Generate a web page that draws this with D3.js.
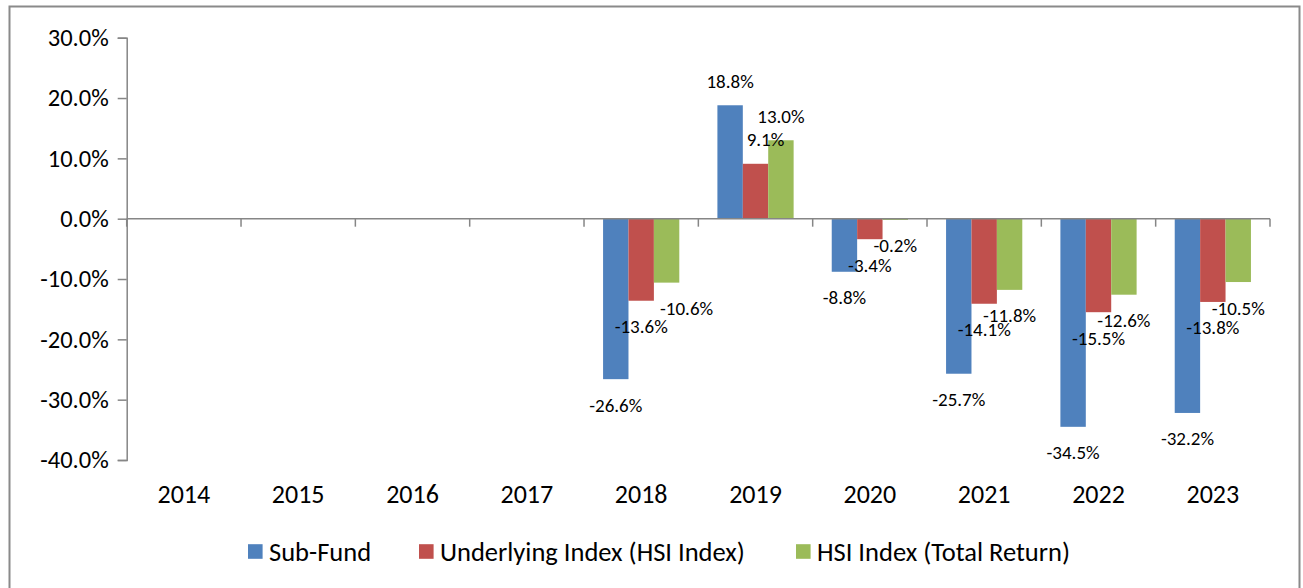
<!DOCTYPE html>
<html>
<head>
<meta charset="utf-8">
<script src="https://cdn.jsdelivr.net/npm/d3@7"></script>
<style>
  body { margin: 0; background: #fff; }
  svg { display: block; }
  text { font-family: Calibri, Carlito, Lato, sans-serif; fill: #000; }
</style>
</head>
<body>
<svg id="chart"></svg>
<script>
const years = ["2014", "2015", "2016", "2017", "2018", "2019", "2020", "2021", "2022", "2023"];
const seriesNames = ["Sub-Fund", "Underlying Index (HSI Index)", "HSI Index (Total Return)"];
const subFund = [null, null, null, null, -26.6, 18.8, -8.8, -25.7, -34.5, -32.2];
const underlying = [null, null, null, null, -13.6, 9.1, -3.4, -14.1, -15.5, -13.8];
const totalReturn = [null, null, null, null, -10.6, 13.0, -0.2, -11.8, -12.6, -10.5];
const yTicks = [30, 20, 10, 0, -10, -20, -30, -40];

const colors = ["#4f81bd", "#c0504d", "#9bbb59"];
// a couple of labels were dragged sideways in the original
const labelNudge = { "2018|2": 20, "2019|1": 10 };

const width = 1303, height = 588;
const svg = d3.select("#chart").attr("width", width).attr("height", height);

// outer frame (bottom edge is cropped off)
svg.append("path")
  .attr("d", `M9.5,${height + 5} V6.5 H1299.5 V${height + 5}`)
  .attr("fill", "none")
  .attr("stroke", "#8a8a8a")
  .attr("stroke-width", 2);

const x = d3.scaleBand().domain(years).range([126.7, 1270]);
const y = d3.scaleLinear().domain([-40, 30]).range([460, 37.7]);
const bw = x.bandwidth();
const gap = bw * 1.5 / 4.5;
const xs = d3.scaleBand().domain([0, 1, 2]).range([gap / 2, bw - gap / 2]);

const allSeries = [subFund, underlying, totalReturn];
const bars = [];
allSeries.forEach((vals, s) => {
  vals.forEach((v, i) => {
    if (v !== null) bars.push({ year: years[i], s, v });
  });
});

// y axis
const yAxis = svg.append("g")
  .attr("transform", `translate(${x.range()[0]},0)`)
  .call(d3.axisLeft(y).tickValues(yTicks).tickSize(9).tickPadding(9)
    .tickFormat(d => d.toFixed(1) + "%"));
yAxis.select(".domain").attr("stroke", "#868686").attr("stroke-width", 1.5);
yAxis.selectAll(".tick line").attr("stroke", "#868686").attr("stroke-width", 1.5);
yAxis.selectAll(".tick text").attr("font-size", 24.5).attr("fill", "#000")
  .style("font-family", "Calibri, Carlito, Lato, sans-serif");

// bars
svg.append("g").selectAll("rect")
  .data(bars)
  .enter()
  .append("rect")
  .attr("x", d => x(d.year) + xs(d.s))
  .attr("width", xs.bandwidth())
  .attr("y", d => y(Math.max(0, d.v)))
  .attr("height", d => Math.abs(y(d.v) - y(0)))
  .attr("fill", d => colors[d.s]);

// category axis along zero
const y0 = y(0);
const xAxis = svg.append("g");
xAxis.append("line")
  .attr("x1", x.range()[0]).attr("x2", x.range()[1])
  .attr("y1", y0).attr("y2", y0)
  .attr("stroke", "#868686").attr("stroke-width", 1.5);
xAxis.selectAll(".tk")
  .data(years.concat(["end"]))
  .enter()
  .append("line")
  .attr("x1", (d, i) => x.range()[0] + i * bw)
  .attr("x2", (d, i) => x.range()[0] + i * bw)
  .attr("y1", y0).attr("y2", y0 + 8)
  .attr("stroke", "#868686").attr("stroke-width", 1.5);

svg.append("g").selectAll("text")
  .data(years)
  .enter()
  .append("text")
  .attr("x", d => x(d) + bw / 2)
  .attr("y", 494)
  .attr("text-anchor", "middle")
  .attr("dominant-baseline", "central")
  .attr("font-size", 26)
  .text(d => d);

// data labels
svg.append("g").selectAll("text")
  .data(bars)
  .enter()
  .append("text")
  .attr("x", d => x(d.year) + xs(d.s) + xs.bandwidth() / 2 + (labelNudge[d.year + "|" + d.s] || 0))
  .attr("y", d => d.v >= 0 ? y(d.v) - 24 : y(d.v) + 26)
  .attr("text-anchor", "middle")
  .attr("dominant-baseline", "central")
  .attr("font-size", 19)
  .text(d => d.v.toFixed(1) + "%");

// legend
const legendX = [248, 419, 796];
const legend = svg.append("g").selectAll("g")
  .data(seriesNames)
  .enter()
  .append("g")
  .attr("transform", (d, i) => `translate(${legendX[i]}, 551.5)`);
legend.append("rect")
  .attr("x", 0).attr("y", -7.3)
  .attr("width", 14.6).attr("height", 14.6)
  .attr("fill", (d, i) => colors[i]);
legend.append("text")
  .attr("x", 21)
  .attr("y", 0)
  .attr("dominant-baseline", "central")
  .attr("font-size", 26.5)
  .text(d => d);
</script>
</body>
</html>
